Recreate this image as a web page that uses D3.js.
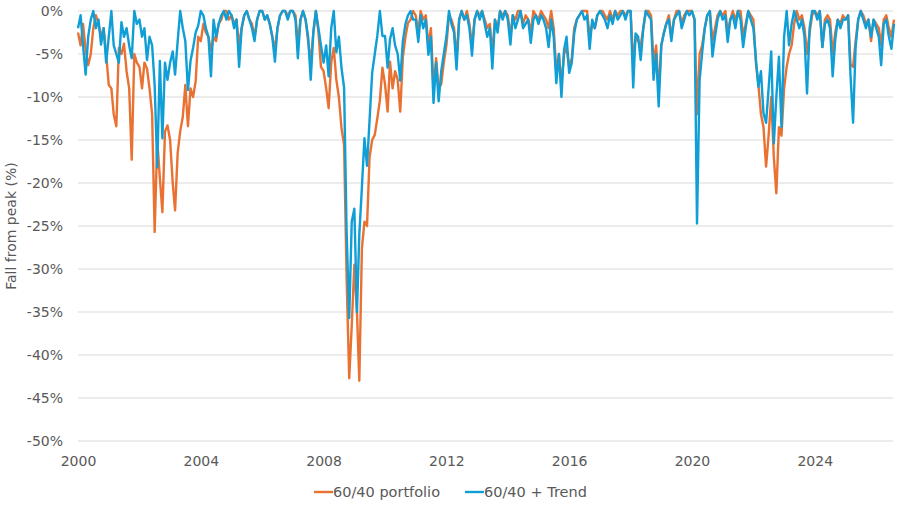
<!DOCTYPE html>
<html>
<head>
<meta charset="utf-8">
<script src="https://cdn.jsdelivr.net/npm/d3@7"></script>
<style>
  html, body { margin: 0; padding: 0; background: #fff; }
  svg text { font-family: "DejaVu Sans", sans-serif; fill: #595959; }
</style>
</head>
<body>
<svg id="chart" width="903" height="506"></svg>
<script>
// monthly drawdown (%) from Jan 2000
const firstMonth = new Date(2000, 0, 1);
const lastMonth = new Date(2026, 7, 1);

const portfolio = [
  -2.5, -4, -1.5, -4.5, -6.3, -5, -2, -0.5, -1.5, -3, -2, -5,            // 2000
  -8.6, -9, -12, -13.4, -4.3, -5, -3.8, -7, -9, -17.3, -5, -6,          // 2001
  -6.5, -9, -6, -6.7, -9, -12, -25.7, -15, -19.4, -23.4, -14, -13.3,    // 2002
  -15, -20, -23.2, -16.5, -14, -12.3, -8.6, -13.4, -9, -10, -8.2, -3,   // 2003
  -3.5, -1.5, -2.5, -3, -4.6, -3, -3.5, -1.5, -1, 0, 0, -1,             // 2004
  -0.5, -1.5, -1, -4, -2, -0.5, 0, -1, -1.5, -3, -1, 0,                 // 2005
  0, -1, -0.5, -1.5, -3, -4.5, -2, -0.5, 0, 0, -0.5, 0,                 // 2006
  0, -0.5, -4, -1, 0, -1, -3.5, -6, -2.5, 0, -2.5, -6.5,                // 2007
  -7, -9, -11.3, -6, -4.3, -8, -10, -13.6, -15.6, -31, -42.7, -36.6,    // 2008
  -29.5, -35, -43, -27.6, -24.5, -25, -17, -15, -14.4, -12.5, -10.4, -6.6, // 2009
  -8.5, -11.7, -5.9, -9, -7, -8, -11.7, -5.4, -3, -1.4, -1, 0,          // 2010
  -0.5, -2.5, 0, -1, -0.5, -4, -2, -9, -5.5, -9, -8.5, -6,              // 2011
  -4, -0.5, -1, -2, -5.5, -1, 0, -1, 0, -1.5, -4, -1,                   // 2012
  0, -0.5, 0, -1, -2, -1.5, -5, -1, -2, 0, -0.5, 0,                     // 2013
  -0.5, -3, -0.5, -1, 0, 0, -1.5, -0.5, -1, -2.5, 0, -0.5,              // 2014
  -1, 0, -0.5, -1, -2, 0, -2, -7, -5, -8.5, -5, -4.3,                   // 2015
  -6.5, -5.5, -2, -1, -0.5, 0, 0, 0, -3, -1.5, -2, -0.5,                // 2016
  0, 0, -0.5, -1, 0, -1, 0, -0.5, 0, 0, -0.5, 0,                        // 2017
  0, -6, -3, -3.5, -4, -2, 0, 0, -0.5, -6, -4, -9.5,                    // 2018
  -4, -2.5, -1.5, -0.5, -3, -1, 0, 0, -1.5, -0.5, 0, 0,                 // 2019
  0, -1, -12, -5, -4, -2, -0.5, 0, -3.5, -2, -0.5, 0,                   // 2020
  -0.5, 0, -2.5, -1, 0, -1, 0, 0, -3, -1.5, 0, -0.5,                    // 2021
  -1, -6.2, -8.5, -12, -13.5, -18.1, -14.5, -10, -17, -21.2, -13.5, -14.5, // 2022
  -9, -6.5, -5, -4, -1.5, 0, -1, -0.5, -2, -5, -2.5, -0.5,              // 2023
  0, -0.5, 0, -4.2, -1, -0.5, -1, -5, -2.5, -1, -1.5, -0.5,             // 2024
  -1, -0.5, -6.2, -6.5, -3.5, -1, 0, -0.5, -1.5, -1, -3.5, -1,          // 2025
  -1.5, -2, -4, -1, -0.5, -2, -3, -1                                    // 2026
];

const trend = [
  -2, -0.5, -4, -7.4, -3, -1, 0, -2, -1, -3.9, -2, -6,                  // 2000
  -3, 0, -4, -5, -6, -1.3, -3, -2, -4, -5.5, 0, -1.5,                   // 2001
  -1, -3, -2, -5.7, -3, -4, -8.6, -18.2, -5.8, -14.8, -6, -8,           // 2002
  -6, -4.7, -7.4, -3.5, 0, -2, -3.5, -9.2, -5.8, -4.3, -2.5, -1.7,      // 2003
  0, -0.5, -2, -3, -7.6, -1, -3, -1.5, -0.5, 0, -1, 0,                  // 2004
  -0.5, -2, -1, -6.5, -2, -0.5, 0, -1, -2, -3.5, -1, 0,                 // 2005
  0, -1, -0.5, -1.5, -3, -5.9, -2, -0.5, 0, 0, -1, 0,                   // 2006
  0, -1, -5.5, -1, 0, -1, -3, -8, -2.5, 0, -2, -4,                      // 2007
  -6, -4, -7.6, -2, 0, -4.8, -3, -6.6, -8.9, -25.7, -35.7, -24.5,       // 2008
  -23, -35, -26, -20.5, -14.8, -18, -12.7, -7.2, -5, -2.9, 0, -2.9,     // 2009
  -2.9, -6.6, -3.3, -2, -4, -5, -8.1, -3.5, -1.5, -0.5, 0, -1,          // 2010
  -1, -3.6, -0.5, -2, -1, -5.1, -3, -10.7, -6, -10.5, -7, -5,           // 2011
  -3, 0, -1.5, -2.5, -6.8, -1, 0, -1, -0.5, -2, -5.2, -1,               // 2012
  0, -1, 0, -1.5, -3, -2, -6.7, -1, -2.5, 0, -1, 0,                     // 2013
  -1, -3.9, -0.5, -2, -1, 0, -2, -1.5, -1, -3.7, -1, -0.5,              // 2014
  -1.5, -0.5, -1, -2, -4.2, -1, -3, -8.4, -5, -10, -4.5, -3,            // 2015
  -7.2, -6, -2.6, -1, -0.5, 0, -1, -0.5, -4.4, -1, -2, -0.5,            // 2016
  0, -0.5, -1, -2, -0.5, -1.5, 0, -1, -0.5, 0, -1, 0,                   // 2017
  0, -8.9, -2.6, -3, -5.7, -2, 0, -0.5, -1, -8, -5, -11.1,              // 2018
  -4, -2.6, -1.5, -1, -3.5, -1, -0.5, 0, -2, -1, 0, -0.5,               // 2019
  0, -1, -24.7, -8, -4.9, -2, -0.5, 0, -5.3, -3, -1, 0,                 // 2020
  -1, -0.5, -3.6, -1, -0.5, -2, 0, -1, -4.2, -2, 0, -1,                 // 2021
  -2, -5.7, -8.8, -7, -11.9, -13, -9, -4.7, -15.4, -10, -5.3, -13.5,    // 2022
  -3, 0, -4, -1.5, 0, -1, -2, -1, -3, -9.6, -2, 0,                      // 2023
  0, -1, 0, -4.2, -1.5, -1, -2, -7.6, -3.3, -1, -2, -1,                 // 2024
  -1, -0.5, -7.4, -13, -4.2, -1, 0, -1, -2, -1, -3, -1,                 // 2025
  -2, -3, -6.3, -1.5, -1, -3, -4.4, -1.5                                // 2026
];

const seriesNames = ["60/40 portfolio", "60/40 + Trend"];
const seriesColors = ["#E97132", "#0F9ED5"];
const yTicks = [0, -5, -10, -15, -20, -25, -30, -35, -40, -45, -50];

const months = d3.timeMonth.range(firstMonth, d3.timeMonth.offset(lastMonth, 1));

const svg = d3.select("#chart");

const xScale = d3.scaleTime()
  .domain([new Date(2000, 0, 1), new Date(2026, 6, 20)])
  .range([78, 893]);

const yScale = d3.scaleLinear()
  .domain([-50, 0])
  .range([441, 11]);

// gridlines
svg.append("g")
  .selectAll("line")
  .data(yTicks)
  .join("line")
  .attr("x1", xScale.range()[0])
  .attr("x2", xScale.range()[1])
  .attr("y1", d => yScale(d))
  .attr("y2", d => yScale(d))
  .attr("stroke", "#D9D9D9")
  .attr("stroke-width", 1);

// y axis labels
const yAxis = svg.append("g")
  .attr("transform", "translate(63,0)")
  .call(d3.axisLeft(yScale).tickValues(yTicks).tickSize(0).tickPadding(0).tickFormat(d => d + "%"));
yAxis.select(".domain").remove();
yAxis.selectAll("text").attr("font-size", 14).attr("dy", "0.35em");

// x axis labels
const xAxis = svg.append("g")
  .attr("transform", "translate(0,452)")
  .call(d3.axisBottom(xScale).ticks(d3.timeYear.every(4)).tickSize(0).tickPadding(4).tickFormat(d3.timeFormat("%Y")));
xAxis.select(".domain").remove();
xAxis.selectAll("text").attr("font-size", 14);

// axis title
svg.append("text")
  .attr("transform", "translate(16,226) rotate(-90)")
  .attr("text-anchor", "middle")
  .attr("font-size", 14)
  .text("Fall from peak (%)");

const line = d3.line()
  .x((d, i) => xScale(months[i]))
  .y(d => yScale(d));

[portfolio, trend].forEach((values, k) => {
  svg.append("path")
    .datum(values)
    .attr("fill", "none")
    .attr("stroke", seriesColors[k])
    .attr("stroke-width", 2.4)
    .attr("stroke-linejoin", "round")
    .attr("d", line);
});

// legend
const legendX = [314, 465];
const legend = svg.append("g");
seriesNames.forEach((name, k) => {
  legend.append("line")
    .attr("x1", legendX[k]).attr("x2", legendX[k] + 19)
    .attr("y1", 492).attr("y2", 492)
    .attr("stroke", seriesColors[k])
    .attr("stroke-width", 2.4);
  legend.append("text")
    .attr("x", legendX[k] + 19)
    .attr("y", 492)
    .attr("dy", "0.35em")
    .attr("font-size", 14.5)
    .text(name);
});
</script>
</body>
</html>
